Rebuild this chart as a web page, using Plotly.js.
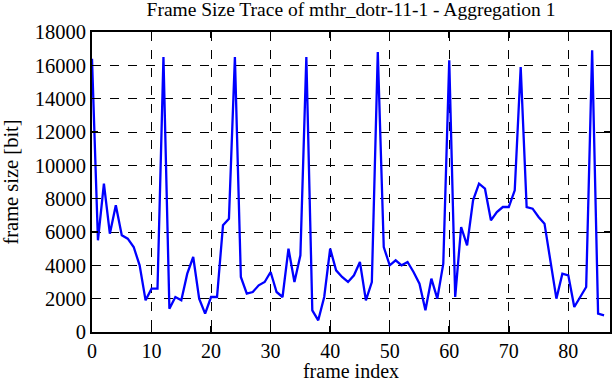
<!DOCTYPE html>
<html>
<head>
<meta charset="utf-8">
<script src="https://cdn.plot.ly/plotly-3.0.1.min.js"></script>
<style>html,body{margin:0;padding:0;background:#fff}#chart{width:612px;height:382px}</style>
</head>
<body>
<div id="chart"></div>
<script>
const frameIndex = [];
for (let i = 0; i <= 86; i++) frameIndex.push(i);
const frameSize = [
  16400, 5500, 8900, 5900, 7600, 5800, 5600, 5100, 4000, 1900,
  2600, 2600, 16500, 1400, 2100, 1900, 3500, 4500, 2000, 1100,
  2100, 2100, 6400, 6800, 16500, 3300, 2300, 2400, 2800, 3000,
  3600, 2400, 2100, 5000, 3000, 4600, 16500, 1300, 700, 2100,
  5000, 3700, 3300, 3000, 3400, 4200, 1900, 3000, 16800, 5100,
  4000, 4300, 4000, 4200, 3600, 2900, 1300, 3200, 2000, 4100,
  16300, 2100, 6300, 5200, 7900, 8900, 8600, 6700, 7200, 7500,
  7500, 8500, 15900, 7500, 7400, 6900, 6500, 4200, 2000, 3500,
  3400, 1500, 2100, 2700, 16900, 1100, 1000
];
const xTicks = [0, 10, 20, 30, 40, 50, 60, 70, 80];
const yTicks = [0, 2000, 4000, 6000, 8000, 10000, 12000, 14000, 16000, 18000];

const fam = '"Liberation Serif", "Times New Roman", serif';
function f(size) { return {family: fam, size: size, color: '#000'}; }
const axisCommon = {
  showline: true, linecolor: '#000', linewidth: 2, mirror: 'ticks',
  ticks: 'inside', ticklen: 6, tickwidth: 1.5, tickcolor: '#000',
  showgrid: true, gridcolor: '#000', gridwidth: 1, griddash: 'dash',
  zeroline: false
};

Plotly.newPlot('chart', [{
  x: frameIndex, y: frameSize, type: 'scatter', mode: 'lines',
  line: {color: '#0000ff', width: 2.3}, hoverinfo: 'skip'
}], {
  width: 612, height: 382,
  margin: {l: 92, r: 2, t: 32, b: 50},
  paper_bgcolor: '#fff', plot_bgcolor: '#fff',
  showlegend: false,
  font: f(19),
  title: {text: 'Frame Size Trace of mthr_dotr-11-1 - Aggregation 1',
          font: f(19.5),
          x: 0.5, xref: 'paper', xanchor: 'center',
          y: 0.975, yref: 'container', yanchor: 'middle'},
  xaxis: Object.assign({}, axisCommon, {
    range: [0, 87], tickvals: xTicks, ticktext: xTicks.map(String),
    tickfont: f(20),
    title: {text: 'frame index', font: f(20), standoff: 5}
  }),
  yaxis: Object.assign({}, axisCommon, {
    range: [0, 18000], tickvals: yTicks, ticktext: yTicks.map(String),
    tickfont: f(20.5),
    title: {text: 'frame size [bit]', font: f(20.5), standoff: 11}
  })
}, {staticPlot: true, displayModeBar: false});
</script>
</body>
</html>
